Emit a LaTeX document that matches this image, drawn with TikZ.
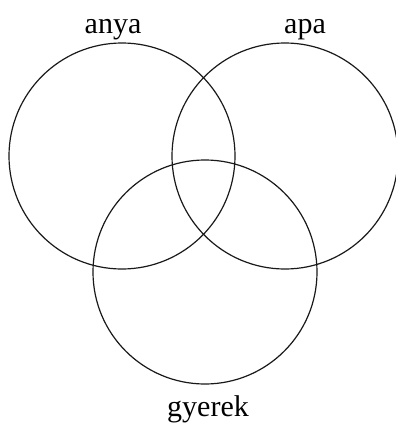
\documentclass[tikz,border=0pt]{standalone}
\usepackage{fontspec}
\setmainfont{Liberation Serif}
\usetikzlibrary{positioning}
\tikzset{
  setcirc/.style={circle, draw=black!90, line width=1.2pt, minimum size=#1, inner sep=0pt},
  setcirc/.default=226pt,
  lbl/.style={font=\fontsize{30}{32}\selectfont, anchor=base, inner sep=0pt},
}
\begin{document}
\begin{tikzpicture}[x=1pt, y=-1pt]
  \useasboundingbox (0,0) rectangle (396,423);
  % halmazok
  \node[setcirc] (anya) at (122,156) {};
  \node[setcirc] (apa) at (285,156) {};
  \node[setcirc=224pt] (gyerek) at (205,272) {};

  % feliratok
  \node[lbl] (anya_l) at (113,33) {anya};
  \node[lbl] (apa_l) at (305,33) {apa};
  \node[lbl] (gyerek_l) at (208,416) {gyerek};
\end{tikzpicture}
\end{document}
